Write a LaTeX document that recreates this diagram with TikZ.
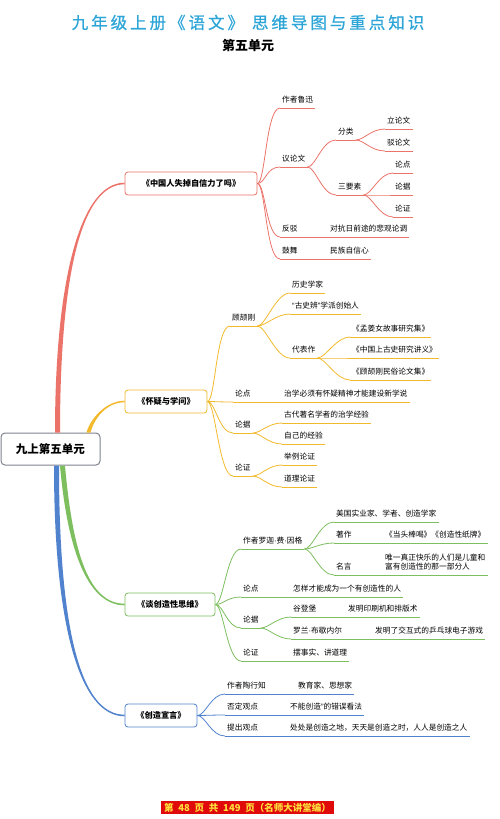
\documentclass[tikz,border=0pt]{standalone}
\usepackage{fontspec}
\setmainfont{Noto Sans CJK SC}
\newfontfamily\qfont{Liberation Sans}
\usepackage{tikz}
\usetikzlibrary{positioning}

\definecolor{titleblue}{RGB}{45,165,215}
\definecolor{rootgray}{RGB}{125,130,140}
\definecolor{redline}{RGB}{235,115,105}
\definecolor{orangeline}{RGB}{242,185,45}
\definecolor{greenline}{RGB}{125,190,95}
\definecolor{blueline}{RGB}{80,130,205}
\definecolor{footred}{RGB}{225,10,10}
\definecolor{footyellow}{RGB}{255,225,60}

\tikzset{leaf/.style={anchor=south west, inner xsep=2pt, inner ysep=2.2pt,
    font=\fontsize{7.7}{9.5}\selectfont, execute at begin node=\strut,
    append after command={(\tikzlastnode.south west) edge[link, draw=#1] (\tikzlastnode.south east)}}}

\begin{document}
\begin{tikzpicture}[x=1pt, y=1pt]
    % Define block styles
    \tikzstyle{rootbox} = [rectangle, rounded corners=4pt, draw=rootgray, line width=1pt, minimum width=99pt, minimum height=32pt, font=\bfseries\fontsize{11.5}{13}\selectfont]
    \tikzstyle{topic} = [rectangle, rounded corners=3pt, fill=white, line width=0.8pt, minimum height=23pt, font=\bfseries\fontsize{8.2}{10}\selectfont]
    \tikzstyle{link} = [line width=0.8pt]
    \tikzstyle{branch} = [out=0, in=180, out distance=8pt, in distance=14pt]

    \useasboundingbox (0,0) rectangle (500,-819);

    % Title
    \node (title) at (248,-22.5) [text=titleblue, font={\fontsize{16.5}{18}\selectfont\addfontfeatures{LetterSpace=18,FakeBold=0.8}}] {九年级上册《语文》\hspace{8pt}思维导图与重点知识};
    \node (sub) [below=1.5pt of title, font=\bfseries\fontsize{13}{15}\selectfont] {第五单元};

    % Root and topics
    \node (root) [rootbox] at (50.5,-449) {九上第五单元};
    \node (b1) [topic, draw=redline, minimum width=132pt] at (191,-183.5) {《中国人失掉自信力了吗》};
    \node (b2) [topic, draw=orangeline, minimum width=82pt] at (166,-401.5) {《怀疑与学问》};
    \node (b3) [topic, draw=greenline, minimum width=90pt] at (170,-604.5) {《谈创造性思维》};
    \node (b4) [topic, draw=blueline, minimum width=72pt] at (161,-715.5) {《创造宣言》};

    % Tapered trunks from the root
    \fill [redline] ([xshift=4.5pt]root.north) to[out=90, in=180, out distance=150pt, in distance=45pt] ([yshift=0.8pt]b1.west)
        -- ([yshift=-0.8pt]b1.west) to[out=180, in=90, out distance=45pt, in distance=150pt] ([xshift=9.5pt]root.north) -- cycle;
    \fill [orangeline] ([xshift=36pt]root.north) to[out=75, in=180, out distance=15pt, in distance=18pt] ([yshift=0.8pt]b2.west)
        -- ([yshift=-0.8pt]b2.west) to[out=180, in=75, out distance=18pt, in distance=15pt] ([xshift=40pt]root.north) -- cycle;
    \fill [greenline] ([xshift=9.5pt]root.south) to[out=-85, in=180, out distance=90pt, in distance=35pt] ([yshift=-0.8pt]b3.west)
        -- ([yshift=0.8pt]b3.west) to[out=180, in=-85, out distance=35pt, in distance=90pt] ([xshift=14.5pt]root.south) -- cycle;
    \fill [blueline] ([xshift=3.5pt]root.south) to[out=-90, in=180, out distance=160pt, in distance=45pt] ([yshift=-0.8pt]b4.west)
        -- ([yshift=0.8pt]b4.west) to[out=180, in=-90, out distance=45pt, in distance=160pt] ([xshift=8.5pt]root.south) -- cycle;

    % Branch 1
    \node (r1) [leaf=redline] at (280,-108) {作者鲁迅};
    \node (r2) [leaf=redline] at (280,-167) {议论文};
    \node (r3) [leaf=redline] at (280,-237) {反驳};
    \node (r4) [leaf=redline] at (280,-259) {鼓舞};
    \node (r21) [leaf=redline] at (336,-140) {分类};
    \node (r22) [leaf=redline] at (336,-195) {三要素};
    \node (r211) [leaf=redline] at (385,-129) {立论文};
    \node (r212) [leaf=redline] at (385,-151) {驳论文};
    \node (r221) [leaf=redline] at (393,-173) {论点};
    \node (r222) [leaf=redline] at (393,-195) {论据};
    \node (r223) [leaf=redline] at (393,-217) {论证};
    \node (r31) [leaf=redline] at (328,-237) {对抗日前途的悲观论调};
    \node (r41) [leaf=redline] at (328,-259) {民族自信心};

    \foreach \c in {r1,r2,r3,r4} \draw [link, redline] (b1.east) to[branch] (\c.south west);
    \foreach \c in {r21,r22} \draw [link, redline] (r2.south east) to[branch] (\c.south west);
    \foreach \c in {r211,r212} \draw [link, redline] (r21.south east) to[branch] (\c.south west);
    \foreach \c in {r221,r222,r223} \draw [link, redline] (r22.south east) to[branch] (\c.south west);
    \draw [link, redline] (r3.south east) -- (r31.south west);
    \draw [link, redline] (r4.south east) -- (r41.south west);

    % Branch 2
    \node (o1) [leaf=orangeline] at (230,-326) {顾颉刚};
    \node (o2) [leaf=orangeline] at (233,-402) {论点};
    \node (o3) [leaf=orangeline] at (233,-433) {论据};
    \node (o4) [leaf=orangeline] at (233,-476) {论证};
    \node (o11) [leaf=orangeline] at (290,-293) {历史学家};
    \node (o12) [leaf=orangeline] at (290,-314) {{\qfont “}古史辨{\qfont ”}学派创始人};
    \node (o13) [leaf=orangeline] at (290,-358) {代表作};
    \node (o131) [leaf=orangeline] at (350,-337) {《孟姜女故事研究集》};
    \node (o132) [leaf=orangeline] at (350,-358) {《中国上古史研究讲义》};
    \node (o133) [leaf=orangeline] at (350,-380) {《顾颉刚民俗论文集》};
    \node (o21) [leaf=orangeline] at (282,-402) {治学必须有怀疑精神才能建设新学说};
    \node (o31) [leaf=orangeline] at (282,-423) {古代著名学者的治学经验};
    \node (o32) [leaf=orangeline] at (282,-444) {自己的经验};
    \node (o41) [leaf=orangeline] at (282,-465) {举例论证};
    \node (o42) [leaf=orangeline] at (282,-487) {道理论证};

    \foreach \c in {o1,o2,o3,o4} \draw [link, orangeline] (b2.east) to[branch] (\c.south west);
    \foreach \c in {o11,o12,o13} \draw [link, orangeline] (o1.south east) to[branch] (\c.south west);
    \foreach \c in {o131,o132,o133} \draw [link, orangeline] (o13.south east) to[branch] (\c.south west);
    \draw [link, orangeline] (o2.south east) -- (o21.south west);
    \foreach \c in {o31,o32} \draw [link, orangeline] (o3.south east) to[branch] (\c.south west);
    \foreach \c in {o41,o42} \draw [link, orangeline] (o4.south east) to[branch] (\c.south west);

    % Branch 3
    \node (g1) [leaf=greenline] at (241,-549) {作者罗迦{\qfont ·}费{\qfont ·}因格};
    \node (g2) [leaf=greenline] at (241,-597) {论点};
    \node (g3) [leaf=greenline] at (241,-628) {论据};
    \node (g4) [leaf=greenline] at (241,-661) {论证};
    \node (g11) [leaf=greenline] at (334,-522) {美国实业家、学者、创造学家};
    \node (g12) [leaf=greenline] at (334,-543) {著作};
    \node (g13) [leaf=greenline] at (334,-575) {名言};
    \node (g121) [leaf=greenline] at (383,-543) {《当头棒喝》《创造性纸牌》};
    \node (g131) [leaf=greenline, align=left] at (383,-575) {唯一真正快乐的人们是儿童和\\富有创造性的那一部分人\strut};
    \node (g21) [leaf=greenline] at (291,-597) {怎样才能成为一个有创造性的人};
    \node (g31) [leaf=greenline] at (291,-617) {谷登堡};
    \node (g32) [leaf=greenline] at (291,-639) {罗兰{\qfont ·}布歇内尔};
    \node (g311) [leaf=greenline] at (346,-617) {发明印刷机和排版术};
    \node (g321) [leaf=greenline] at (373,-639) {发明了交互式的乒乓球电子游戏};
    \node (g41) [leaf=greenline] at (291,-661) {摆事实、讲道理};

    \foreach \c in {g1,g2,g3,g4} \draw [link, greenline] (b3.east) to[branch] (\c.south west);
    \foreach \c in {g11,g12,g13} \draw [link, greenline] (g1.south east) to[branch] (\c.south west);
    \draw [link, greenline] (g12.south east) -- (g121.south west);
    \draw [link, greenline] (g13.south east) -- (g131.south west);
    \draw [link, greenline] (g2.south east) -- (g21.south west);
    \foreach \c in {g31,g32} \draw [link, greenline] (g3.south east) to[branch] (\c.south west);
    \draw [link, greenline] (g31.south east) -- (g311.south west);
    \draw [link, greenline] (g32.south east) -- (g321.south west);
    \draw [link, greenline] (g4.south east) -- (g41.south west);

    % Branch 4
    \node (u1) [leaf=blueline] at (225,-694) {作者陶行知};
    \node (u2) [leaf=blueline] at (225,-715) {否定观点};
    \node (u3) [leaf=blueline] at (225,-736) {提出观点};
    \node (u11) [leaf=blueline] at (296,-694) {教育家、思想家};
    \node (u21) [leaf=blueline] at (288,-715) {不能创造{\qfont ”}的错误看法};
    \node (u31) [leaf=blueline] at (288,-736) {处处是创造之地，天天是创造之时，人人是创造之人};

    \foreach \c in {u1,u2,u3} \draw [link, blueline] (b4.east) to[branch] (\c.south west);
    \draw [link, blueline] (u1.south east) -- (u11.south west);
    \draw [link, blueline] (u2.south east) -- (u21.south west);
    \draw [link, blueline] (u3.south east) -- (u31.south west);

    % Footer
    \node (foot) at (247.5,-807.5) [fill=footred, text=footyellow, inner xsep=3pt, inner ysep=1.5pt, font=\bfseries\fontsize{9.5}{11}\selectfont] {第\enspace 48\enspace 页\enspace 共\enspace 149\enspace 页（名师大讲堂编）};
\end{tikzpicture}
\end{document}
